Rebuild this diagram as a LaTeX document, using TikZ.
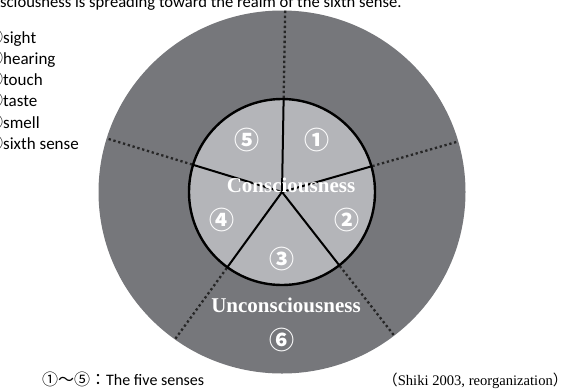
\documentclass[tikz,border=0pt]{standalone}
\usepackage{fontspec}
\setmainfont{Liberation Serif}
\newfontfamily\calfont{Carlito}
\newfontfamily\cjk{Noto Sans CJK JP}
\usetikzlibrary{calc}
\definecolor{outergrey}{HTML}{76777B}
\definecolor{innergrey}{HTML}{B4B5B9}
\tikzset{
  spoke/.style={line width=2pt, black},
  dotline/.style={line width=2.3pt, dash pattern=on 2.3pt off 2.7pt, black!85},
  num/.style={text=white, font=\cjk\bfseries\fontsize{25}{27}\selectfont, inner sep=0},
  bigword/.style={text=white, font=\bfseries\fontsize{21}{24}\selectfont, inner sep=0},
  sanstext/.style={font=\calfont\fontsize{17}{20}\selectfont, inner sep=0, anchor=base west},
}
\begin{document}
\begin{tikzpicture}[x=1pt, y=-1pt]
\useasboundingbox (0,0) rectangle (561,389);
\coordinate (c) at (282,192);
% outer region
\fill[outergrey] (c) ellipse [x radius=183.5pt, y radius=181.5pt];
% dotted separators
\foreach \a/\n in {89/t, 16/r, -52/br, -126/bl, 163/l}{
  \coordinate (in\n) at ($(c)+(\a:94pt)$);
  \coordinate (out\n) at ($(c)+(\a:182pt)$);
  \draw[dotline] (in\n) -- (out\n);
}
% inner circle
\fill[innergrey] (c) circle [radius=93pt];
\foreach \a/\n in {89/t, 16/r, -52/br, -126/bl, 163/l}{
  \coordinate (sp\n) at ($(c)+(\a:93pt)$);
  \draw[spoke] (c) -- (sp\n);
}
\draw[line width=2.4pt, black] (c) circle [radius=93pt];
% numbers
\node[num] (n1) at (317,140) {①};
\node[num] (n2) at (347,220) {②};
\node[num] (n3) at (282,259) {③};
\node[num] (n4) at (222,220) {④};
\node[num] (n5) at (247,140) {⑤};
\node[num] (n6) at (282,340) {⑥};
\node[bigword] (cons) at (291,185) {Consciousness};
\node[bigword] (uncons) at (286,305) {Unconsciousness};
% title and list
\node[sanstext, font=\calfont\fontsize{16.6}{19}\selectfont] (title) at (0,7) {sciousness is spreading toward the realm of the sixth sense.};
\node[sanstext] (l1) at (-14,43) {{\cjk ①}sight};
\node[sanstext] (l2) at (-14,64.3) {{\cjk ②}hearing};
\node[sanstext] (l3) at (-14,85.6) {{\cjk ③}touch};
\node[sanstext] (l4) at (-14,106.9) {{\cjk ④}taste};
\node[sanstext] (l5) at (-14,128.2) {{\cjk ⑤}smell};
\node[sanstext] (l6) at (-14,149.5) {{\cjk ⑥}sixth sense};
% bottom notes
\node[sanstext, font=\calfont\fontsize{16}{19}\selectfont] (note) at (42,385) {{\cjk ①～⑤：}The five senses};
\node[inner sep=0, anchor=base west, font=\fontsize{14.6}{18}\selectfont] (src) at (383,385) {{\cjk （}Shiki 2003, reorganization{\cjk ）}};
\end{tikzpicture}
\end{document}
